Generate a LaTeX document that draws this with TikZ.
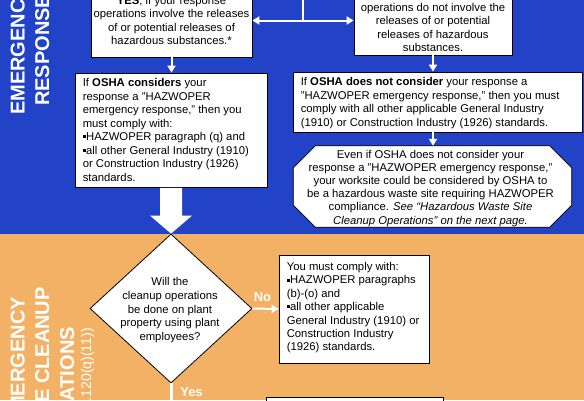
\documentclass[tikz,border=0pt]{standalone}
\usepackage{fontspec}
\setmainfont{Liberation Sans}
\usetikzlibrary{arrows.meta,shapes.geometric,calc}
\definecolor{bgblue}{RGB}{34,66,200}
\definecolor{bgorange}{RGB}{243,177,102}
\newcommand\fs{\fontsize{11.3}{13.5}\selectfont}
\newcommand\ls{\rule[-2.4pt]{0pt}{12.8pt}}
\newcommand\bul{\rule[2.3pt]{3pt}{3pt}\hspace{0.4pt}}
\begin{document}
\begin{tikzpicture}[x=1pt,y=-1pt,
  box/.style={draw=black,line width=0.8pt,fill=white,inner sep=0pt,rectangle},
  plain/.style={inner sep=0pt,rectangle},
  txt/.style={inner sep=0pt,font=\fs,text=black},
  conn/.style={draw=white,line width=2pt},
  arr/.style={conn,-{Triangle[width=8pt,length=7pt]}},
  side/.style={rotate=90,inner sep=0pt,text=white,font=\fontsize{20}{24}\bfseries\selectfont},
  sidesmall/.style={rotate=90,inner sep=0pt,text=white,font=\fontsize{14}{16}\selectfont},
  lab/.style={inner sep=0pt,text=white,font=\fontsize{13}{15}\bfseries\selectfont}]
\useasboundingbox (0,0) rectangle (584,400);
\clip (0,0) rectangle (584,400);
\fill[bgblue] (0,0) rectangle (584,233.5);
\fill[bgorange] (0,233.5) rectangle (584,400);

% side titles
\node[side,anchor=base west] (s1) at (24.5,115) {EMERGENCY};
\node[side,anchor=base west] (s2) at (49,106) {RESPONSE};
\node[side,anchor=base east] (s3) at (24.5,297) {EMERGENCY};
\node[side,anchor=base east] (s4) at (49,287) {SITE CLEANUP};
\node[side,anchor=base east] (s5) at (74,327) {OPERATIONS};
\node[sidesmall,anchor=base east] (s6) at (91,328) {(1910.120(q)(11))};

% boxes
\node[box,minimum width=161pt,minimum height=73pt,txt,align=center] (A) at (171.5,20.5)
  {\ls\textbf{YES}, if your response\\operations involve the releases\\of or potential releases of\\\ls hazardous substances.*};
\node[box,minimum width=158pt,minimum height=69pt,txt,align=center] (B) at (433,20.5)
  {\ls\textbf{NO}, if your response\\operations do not involve the\\releases of or potential\\releases of hazardous\\\ls substances.};

\node[box,minimum width=192pt,minimum height=114pt] (C) at (171,130) {};
\node[txt,anchor=west,align=left] (Ct) at ($(C.west)+(8,0)$)
  {\ls If \textbf{OSHA considers} your\\
   response a "HAZWOPER\\
   emergency response," then you\\
   must comply with:\\
   \bul HAZWOPER paragraph (q) and\\
   \bul all other General Industry (1910)\\
   or Construction Industry (1926)\\
   \ls standards.};

\node[box,minimum width=289pt,minimum height=60pt] (F) at (437.5,102) {};
\node[txt,anchor=west,align=left] (Ft) at ($(F.west)+(8,0)$)
  {\ls If \textbf{OSHA does not consider} your response a\\
   "HAZWOPER emergency response," then you must\\
   comply with all other applicable General Industry\\
   \ls (1910) or Construction Industry (1926) standards.};

\node[plain,minimum width=278pt,minimum height=81pt] (G) at (432.5,186.5) {};
\filldraw[draw=black,line width=0.8pt,fill=white]
  ($(G.north west)+(22,0)$) -- ($(G.north east)+(-22,0)$) -- ($(G.north east)+(0,22)$)
  -- ($(G.south east)+(0,-22)$) -- ($(G.south east)+(-22,0)$) -- ($(G.south west)+(22,0)$)
  -- ($(G.south west)+(0,-22)$) -- ($(G.north west)+(0,22)$) -- cycle;
\node[txt,align=center,font=\fontsize{11.3}{13.2}\selectfont] (Gt) at (430.5,187)
  {\ls Even if OSHA does not consider your\\
   response a "HAZWOPER emergency response,"\\
   your worksite could be considered by OSHA to\\
   be a hazardous waste site requiring HAZWOPER\\
   compliance. \textit{See “Hazardous Waste Site}\\
   \ls\textit{Cleanup Operations” on the next page.}};

\node[diamond,draw=black,line width=0.8pt,fill=white,inner sep=0pt,
      minimum width=162pt,minimum height=149pt] (Q) at (171,308.5) {};
\node[txt,align=center,font=\fontsize{11.3}{13.75}\selectfont] (Qt) at (170,309.2)
  {\ls Will the\\cleanup operations\\be done on plant\\property using plant\\\ls employees?};

\node[box,minimum width=150pt,minimum height=108pt] (D) at (354,309) {};
\node[txt,anchor=west,align=left,font=\fontsize{11.3}{13.4}\selectfont] (Dt) at ($(D.west)+(8,-2.3)$)
  {\ls You must comply with:\\
   \bul HAZWOPER paragraphs\\
   (b)-(o) and\\
   \bul all other applicable\\
   General Industry (1910) or\\
   Construction Industry\\
   \ls (1926) standards.};

\node[box,minimum width=177pt,minimum height=40pt,anchor=north] (E) at (354.5,397) {};

% connectors
\coordinate (top) at (303,-10);
\coordinate (j) at (top |- A.east);
\draw[conn] (top) -- (j);
\draw[arr] (j) -- (A.east);
\draw[arr] (j) -- (B.west);
\draw[arr] (A.south) -- (A.south |- C.north);
\draw[arr] (B.south) -- (B.south |- F.north);
\draw[arr] (B.south |- F.south) -- (B.south |- G.north);
\fill[white] ($(C.south)+(-11,0.4)$) -- ($(Q.north)+(-11,-18)$) -- ($(Q.north)+(-21,-18)$)
  -- (Q.north) -- ($(Q.north)+(21,-18)$) -- ($(Q.north)+(11,-18)$) -- ($(C.south)+(11,0.4)$) -- cycle;
\draw[arr] (Q.east) -- (D.west);
\coordinate (below) at (171,420);
\draw[conn,line width=3pt] (Q.south) -- (below);
\node[lab] (no) at (262.5,297.5) {No};
\node[lab] (yes) at (191.5,392.5) {Yes};
\end{tikzpicture}
\end{document}
